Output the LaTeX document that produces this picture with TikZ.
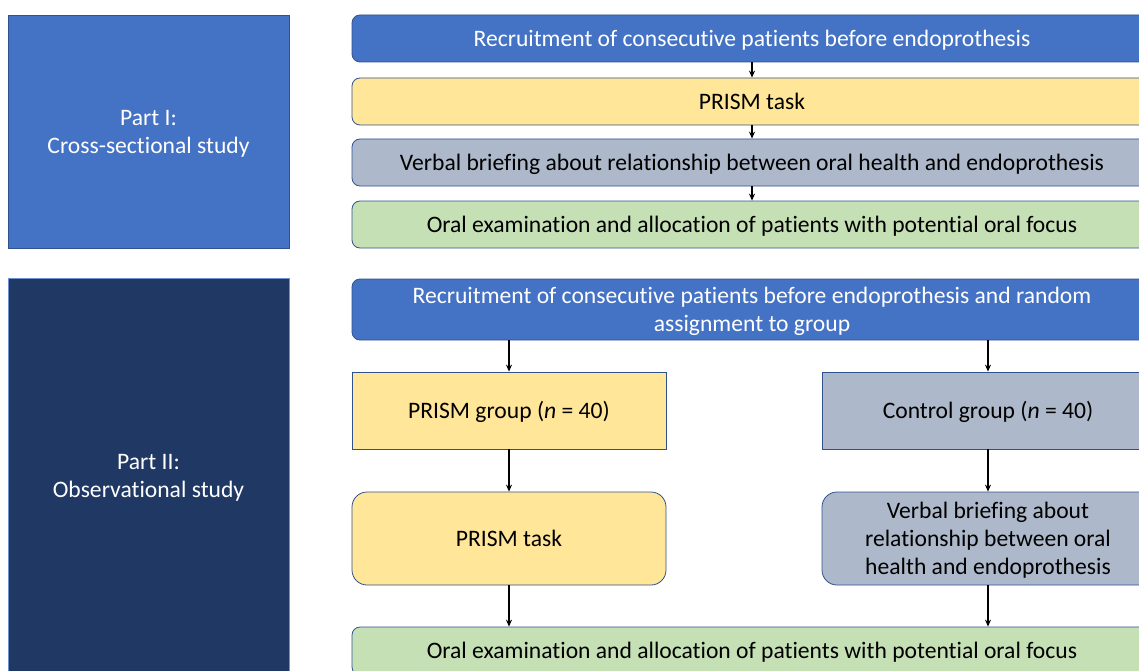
\documentclass[tikz,border=0pt]{standalone}
\usepackage{fontspec}
\setmainfont{Carlito}[Ligatures={NoCommon}]
\usetikzlibrary{arrows.meta}
\definecolor{mblue}{HTML}{4472C4}
\definecolor{dnavy}{HTML}{203864}
\definecolor{pyellow}{HTML}{FFE699}
\definecolor{pgray}{HTML}{ADB9CA}
\definecolor{pgreen}{HTML}{C5E0B4}
\definecolor{edgec}{HTML}{2F528F}
\definecolor{lightedge}{HTML}{6F8FCF}
\begin{document}
\begin{tikzpicture}[x=1pt,y=-1pt,
  box/.style={draw=edgec, line width=0.8pt, inner sep=0pt, align=center,
    font=\fontsize{23.6}{28}\selectfont},
  oneline/.style={text height=20pt, text depth=4.8pt},
  multiline/.style={text depth=0pt},
  rbox/.style={box, rounded corners=8pt},
  rrbox/.style={box, rounded corners=15pt},
  wide/.style={minimum width=800pt},
  half/.style={minimum width=314pt},
  halfr/.style={minimum width=332pt},
  arr/.style={-{Stealth[length=7pt,width=6pt]}, line width=1.1pt, black}]
\useasboundingbox (0,0) rectangle (1139,671);
\clip (0,0) rectangle (1139,671);

% left part boxes
\node[box, multiline, fill=mblue, text=white, minimum width=281pt, minimum height=233pt] (p1) at (148.5,131.5) {Part I:\\Cross-sectional study};
\node[box, multiline, draw=lightedge, fill=dnavy, text=white, minimum width=281pt, minimum height=396pt] (p2) at (148.5,476) {Part II:\\Observational study};

% Part I flow
\node[rbox, oneline, wide, fill=mblue, text=white, minimum height=47pt] (a1) at (752,38.5) {Recruitment of consecutive patients before endoprothesis};
\node[rbox, oneline, wide, fill=pyellow, minimum height=47pt] (a2) at (752,101.5) {PRISM task};
\node[rbox, oneline, wide, fill=pgray, minimum height=47pt] (a3) at (752,162.5) {Verbal briefing about relationship between oral health and endoprothesis};
\node[rbox, oneline, wide, fill=pgreen, minimum height=47pt] (a4) at (752,224.5) {Oral examination and allocation of patients with potential oral focus};
\draw[arr] (a1) -- (a2);
\draw[arr] (a2) -- (a3);
\draw[arr] (a3) -- (a4);

% Part II flow
\node[rbox, multiline, wide, fill=mblue, text=white, minimum height=61pt] (b1) at (752,309.5) {Recruitment of consecutive patients before endoprothesis and random\\assignment to group};
\node[box, oneline, half, fill=pyellow, minimum height=77pt] (pg) at (509,410.5) {PRISM group ({\itshape n} = 40)};
\node[box, oneline, halfr, fill=pgray, minimum height=77pt] (cg) at (988,410.5) {Control group ({\itshape n} = 40)};
\node[rrbox, oneline, half, fill=pyellow, minimum height=93pt] (pt) at (509,538.5) {PRISM task};
\node[rrbox, multiline, halfr, fill=pgray, minimum height=93pt] (vb) at (988,538.5) {Verbal briefing about\\relationship between oral\\health and endoprothesis};
\node[rbox, oneline, wide, fill=pgreen, minimum height=48pt] (b6) at (752,651) {Oral examination and allocation of patients with potential oral focus};
\draw[arr] (pg.north |- b1.south) -- (pg.north);
\draw[arr] (cg.north |- b1.south) -- (cg.north);
\draw[arr] (pg) -- (pt);
\draw[arr] (cg) -- (vb);
\draw[arr] (pt.south) -- (pt.south |- b6.north);
\draw[arr] (vb.south) -- (vb.south |- b6.north);
\end{tikzpicture}
\end{document}
